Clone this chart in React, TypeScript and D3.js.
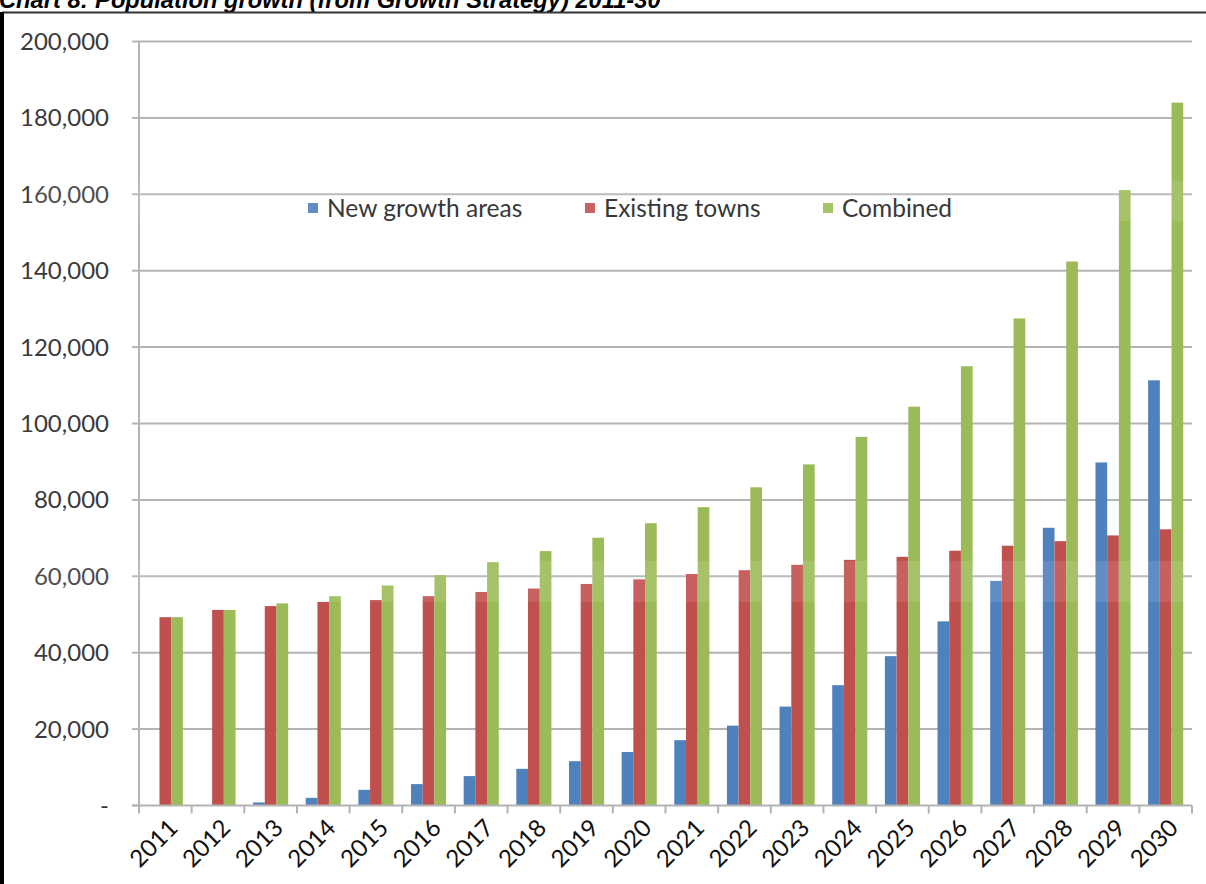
import React from "react";
import * as d3 from "d3";

// Population growth figures (persons), one entry per year
const years: string[] = [
  "2011", "2012", "2013", "2014", "2015", "2016", "2017", "2018", "2019", "2020",
  "2021", "2022", "2023", "2024", "2025", "2026", "2027", "2028", "2029", "2030",
];
const newGrowthAreas: number[] = [
  0, 0, 800, 2000, 4100, 5600, 7700, 9600, 11600, 14000,
  17100, 20900, 25900, 31500, 39100, 48200, 58800, 72700, 89800, 111300,
];
const existingTowns: number[] = [
  49300, 51200, 52200, 53300, 53800, 54800, 55900, 56800, 58000, 59200,
  60600, 61600, 63000, 64300, 65100, 66700, 68000, 69200, 70700, 72300,
];
const combined: number[] = [
  49300, 51200, 52900, 54800, 57600, 60300, 63700, 66600, 70100, 73900,
  78100, 83300, 89300, 96500, 104400, 115000, 127500, 142400, 161100, 184000,
];
const seriesNames: string[] = ["New growth areas", "Existing towns", "Combined"];
const seriesColors: string[] = ["#4F81BD", "#C0504D", "#9BBB59"];
const yTicks: number[] = [0, 20000, 40000, 60000, 80000, 100000, 120000, 140000, 160000, 180000, 200000];

const title = "Chart 8: Population growth (from Growth Strategy) 2011-30";

const W = 1206;
const H = 884;
const plot = { left: 139, right: 1192, top: 41.5, bottom: 805.5 };
const labelFont = "Lato, 'Open Sans', sans-serif";
const gridColor = "#b4b4b4";

export default function App() {
  const x = d3.scaleBand<string>().domain(years).range([plot.left, plot.right]).padding(0);
  const xs = d3.scaleBand<string>().domain(seriesNames).range([0, x.bandwidth()]).paddingInner(0).paddingOuter(0.75);
  const y = d3.scaleLinear().domain([0, 200000]).range([plot.bottom, plot.top]);
  const fmt = d3.format(",");
  const series = [newGrowthAreas, existingTowns, combined];

  const legendItems = [
    { name: seriesNames[0], color: seriesColors[0], x: 308 },
    { name: seriesNames[1], color: seriesColors[1], x: 585 },
    { name: seriesNames[2], color: seriesColors[2], x: 823 },
  ];
  const legendY = 208;

  return (
    <svg width={W} height={H} style={{ position: "absolute", left: 0, top: 0, background: "#fff" }}>
      <rect x={0} y={0} width={W} height={H} fill="#fff" />
      {/* caption above frame */}
      <text x={-1} y={8} fontFamily="'Liberation Sans', Arial, sans-serif" fontStyle="italic" fontWeight="bold" fontSize={23.7} fill="#000">
        {title}
      </text>
      {/* frame */}
      <line x1={2} x2={W} y1={12.5} y2={12.5} stroke="#333" strokeWidth={2} />
      <line x1={2} x2={2} y1={12} y2={H} stroke="#000" strokeWidth={4} />

      {/* horizontal gridlines and y tick marks */}
      {yTicks.map((t) => (
        <g key={t}>
          {t > 0 && <line x1={plot.left} x2={plot.right} y1={y(t)} y2={y(t)} stroke={gridColor} strokeWidth={2} />}
          <line x1={plot.left - 7} x2={plot.left} y1={y(t)} y2={y(t)} stroke={gridColor} strokeWidth={2} />
          <text x={109} y={y(t)} dy="0.35em" textAnchor="end" fontFamily={labelFont} fontSize={24} fill="#3a3a3a">
            {t === 0 ? "-" : fmt(t)}
          </text>
        </g>
      ))}

      {/* bars */}
      {years.map((yr, i) => (
        <g key={yr} transform={`translate(${x(yr)},0)`}>
          {series.map((vals, s) => (
            <rect
              key={s}
              x={xs(seriesNames[s])}
              y={y(vals[i])}
              width={xs.bandwidth()}
              height={plot.bottom - y(vals[i])}
              fill={seriesColors[s]}
            />
          ))}
        </g>
      ))}

      {/* axes */}
      <line x1={plot.left} x2={plot.left} y1={plot.top} y2={plot.bottom + 1} stroke={gridColor} strokeWidth={2} />
      <line x1={plot.left - 7} x2={plot.right} y1={plot.bottom} y2={plot.bottom} stroke={gridColor} strokeWidth={2} />
      {[...years.map((yr) => x(yr) as number), plot.right].map((bx, i) => (
        <line key={i} x1={bx} x2={bx} y1={plot.bottom} y2={plot.bottom + 8} stroke={gridColor} strokeWidth={2} />
      ))}

      {/* category labels */}
      {years.map((yr) => {
        const cx = (x(yr) as number) + x.bandwidth() / 2 + 8;
        const cy = plot.bottom + 18;
        return (
          <text
            key={yr}
            x={cx}
            y={cy}
            textAnchor="end"
            dy="0.35em"
            transform={`rotate(-45,${cx},${cy})`}
            fontFamily={labelFont}
            fontSize={24}
            fill="#111"
          >
            {yr}
          </text>
        );
      })}

      {/* legend */}
      {legendItems.map((it) => (
        <g key={it.name}>
          <rect x={it.x} y={legendY - 5} width={10} height={10} fill={it.color} />
          <text x={it.x + 19} y={legendY} dy="0.35em" fontFamily={labelFont} fontSize={24.5} fill="#222">
            {it.name}
          </text>
        </g>
      ))}

      {/* washed-out bands */}
      <rect x={30} y={181} width={W - 30} height={40} fill="#fff" opacity={0.1} />
      <rect x={30} y={561} width={W - 30} height={41} fill="#fff" opacity={0.1} />
    </svg>
  );
}
